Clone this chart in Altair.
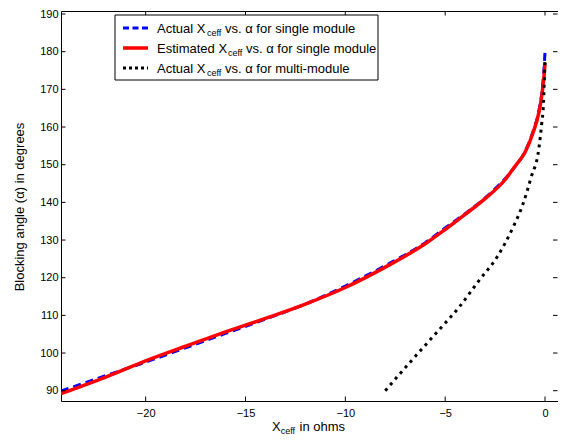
import altair as alt
import pandas as pd

# ---------------- data ----------------
x_single = [-24.24, -22, -20, -18, -16, -14, -12, -10, -8, -6, -5, -4, -3, -2, -1.5, -1, -0.6, -0.3, -0.15, -0.05, 0]
y_actual_single = [89.9, 94.0, 97.6, 101.4, 105.2, 109.0, 113.0, 117.8, 123.2, 129.3, 133.2, 137.0, 141.2, 146.3, 149.5, 153.5, 158.8, 164.5, 169.5, 175.5, 180.0]
y_est_single = [89.2, 93.6, 97.9, 101.8, 105.6, 109.2, 113.0, 117.4, 122.8, 129.0, 132.8, 136.8, 141.0, 146.0, 149.6, 153.3, 158.5, 164.0, 168.8, 173.5, 177.0]

x_multi = [-8.0, -7.4, -6.4, -5.3, -4.3, -3.3, -2.4, -1.6, -1.1, -0.7, -0.3, -0.17, -0.08, 0.0]
y_multi = [90.0, 93.7, 99.7, 106.2, 112.2, 119.3, 125.5, 133.4, 139.6, 146.6, 154.6, 160.7, 166.0, 178.4]

x_ticks = [-20, -15, -10, -5, 0]
y_ticks = [90, 100, 110, 120, 130, 140, 150, 160, 170, 180, 190]

legend_main = ["Actual X", "Estimated X", "Actual X"]
legend_sub = ["ceff", "ceff", "ceff"]
legend_rest = ["vs. \u03b1 for single module", "vs. \u03b1 for single module", "vs. \u03b1 for multi-module"]

x_title_main = "X"
x_title_sub = "ceff"
x_title_rest = "in ohms"
y_title = "Blocking angle (\u03b1) in degrees"

# ---------------- layout ----------------
FONT = "Liberation Sans"
W, H = 497, 390

xscale = alt.Scale(domain=[-24.24, 0.65], nice=False, zero=False)
yscale = alt.Scale(domain=[87.27, 190.8], nice=False, zero=False)

xaxis = alt.Axis(values=x_ticks, title=None, grid=False, domain=False, ticks=False, tickSize=0,
                 labelFont=FONT, labelFontSize=11, labelColor="black", labelPadding=6)
yaxis = alt.Axis(values=y_ticks, title=None, grid=False, domain=False, ticks=False, tickSize=0,
                 labelFont=FONT, labelFontSize=11, labelColor="black", labelPadding=3)


def X(field):
    return alt.X(f"{field}:Q", scale=xscale, axis=xaxis)


def Y(field):
    return alt.Y(f"{field}:Q", scale=yscale, axis=yaxis)


df_a = pd.DataFrame({"x": x_single, "y": y_actual_single})
df_e = pd.DataFrame({"x": x_single, "y": y_est_single})
df_m = pd.DataFrame({"x": x_multi, "y": y_multi})
df_xt = pd.DataFrame({"v": x_ticks})
df_yt = pd.DataFrame({"v": y_ticks})
one = pd.DataFrame({"k": [0]})

BLUE_DASH = [8, 5]
DOT = [3, 4.5]

blue = alt.Chart(df_a).mark_line(color="#0000ff", strokeWidth=3, strokeDash=BLUE_DASH, clip=True,
                                 interpolate="monotone").encode(x=X("x"), y=Y("y"), order=alt.Order("x:Q"))
red = alt.Chart(df_e).mark_line(color="#ff0000", strokeWidth=3.5, clip=True,
                                interpolate="monotone").encode(x=X("x"), y=Y("y"), order=alt.Order("x:Q"))
black = alt.Chart(df_m).mark_line(color="black", strokeWidth=3, strokeDash=DOT, strokeCap="butt", clip=True,
                                  interpolate="monotone").encode(x=X("x"), y=Y("y"), order=alt.Order("x:Q"))

TL = 4.5
tick_b = alt.Chart(df_xt).mark_rule(color="black", strokeWidth=1).encode(x=X("v"), y=alt.value(H), y2=alt.value(H - TL))
tick_t = alt.Chart(df_xt).mark_rule(color="black", strokeWidth=1).encode(x=X("v"), y=alt.value(0), y2=alt.value(TL))
tick_l = alt.Chart(df_yt).mark_rule(color="black", strokeWidth=1).encode(y=Y("v"), x=alt.value(0), x2=alt.value(TL))
tick_r = alt.Chart(df_yt).mark_rule(color="black", strokeWidth=1).encode(y=Y("v"), x=alt.value(W - 0.5), x2=alt.value(W - 0.5 - TL))

# legend (drawn manually so the subscripts can be kept)
leg_box = alt.Chart(one).mark_rect(fill="white", stroke="black", strokeWidth=1).encode(
    x=alt.value(54), x2=alt.value(317), y=alt.value(4), y2=alt.value(69))

row_y = [17, 37, 57]
styles = [dict(color="#0000ff", strokeWidth=3, strokeDash=[6, 3.5]),
          dict(color="#ff0000", strokeWidth=3.5),
          dict(color="black", strokeWidth=3, strokeDash=[3, 3], strokeCap="butt")]
sub_x = [146, 167, 146]
rest_x = [164, 185, 164]

legend_layers = [leg_box]
for i in range(3):
    legend_layers.append(alt.Chart(one).mark_rule(**styles[i]).encode(
        x=alt.value(62), x2=alt.value(87), y=alt.value(row_y[i])))
    legend_layers.append(alt.Chart(one).mark_text(align="left", baseline="alphabetic", font=FONT, fontSize=13, color="black").encode(
        x=alt.value(96), y=alt.value(row_y[i] + 4.5), text=alt.value(legend_main[i])))
    legend_layers.append(alt.Chart(one).mark_text(align="left", baseline="alphabetic", font=FONT, fontSize=9, color="black").encode(
        x=alt.value(sub_x[i]), y=alt.value(row_y[i] + 8), text=alt.value(legend_sub[i])))
    legend_layers.append(alt.Chart(one).mark_text(align="left", baseline="alphabetic", font=FONT, fontSize=13, color="black").encode(
        x=alt.value(rest_x[i]), y=alt.value(row_y[i] + 4.5), text=alt.value(legend_rest[i])))

# axis titles
xt1 = alt.Chart(one).mark_text(align="left", baseline="alphabetic", font=FONT, fontSize=13, color="black").encode(
    x=alt.value(211), y=alt.value(419.5), text=alt.value(x_title_main))
xt2 = alt.Chart(one).mark_text(align="left", baseline="alphabetic", font=FONT, fontSize=9, color="black").encode(
    x=alt.value(219.7), y=alt.value(423), text=alt.value(x_title_sub))
xt3 = alt.Chart(one).mark_text(align="left", baseline="alphabetic", font=FONT, fontSize=13, color="black").encode(
    x=alt.value(238.5), y=alt.value(419.5), text=alt.value(x_title_rest))
yt = alt.Chart(one).mark_text(align="center", baseline="middle", font=FONT, fontSize=13, color="black", angle=270).encode(
    x=alt.value(-41), y=alt.value(196), text=alt.value(y_title))

chart = alt.layer(
    blue, red, black, tick_b, tick_t, tick_l, tick_r, *legend_layers, xt1, xt2, xt3, yt
).properties(
    width=W, height=H,
    padding={"left": 53, "top": 3, "right": 0, "bottom": 34},
    autosize=alt.AutoSizeParams(type="none"),
    background="white",
).configure_view(stroke="black", strokeWidth=1)

chart.save("out.html", embed_options={"renderer": "svg", "actions": False})
